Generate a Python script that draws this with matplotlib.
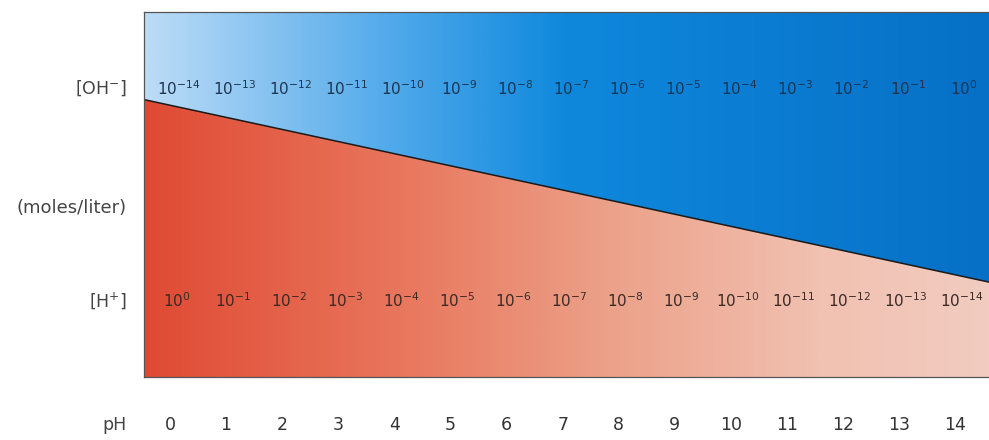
import numpy as np
import matplotlib.pyplot as plt
from matplotlib.colors import LinearSegmentedColormap
from matplotlib.patches import Polygon

plt.rcParams['font.family'] = ['DejaVu Sans']
plt.rcParams['mathtext.fontset'] = 'dejavusans'

# data
ph = [0, 1, 2, 3, 4, 5, 6, 7, 8, 9, 10, 11, 12, 13, 14]
oh_exp = [-14, -13, -12, -11, -10, -9, -8, -7, -6, -5, -4, -3, -2, -1, 0]
h_exp = [0, -1, -2, -3, -4, -5, -6, -7, -8, -9, -10, -11, -12, -13, -14]
boundary_y = [0.76, 0.26]   # dividing line height at left / right edge

x0, x1 = -0.463, 14.6

fig = plt.figure(figsize=(9.89, 4.4), dpi=100)
ax = fig.add_axes([144 / 989, 63 / 440, 1 - 144 / 989, 365 / 440])
ax.set_xlim(x0, x1)
ax.set_ylim(0, 1)
ax.set_xticks([])
ax.set_yticks([])
for s in ['left', 'top', 'bottom']:
    ax.spines[s].set_color('#555555')
    ax.spines[s].set_linewidth(0.9)
ax.spines['right'].set_visible(False)

blue = LinearSegmentedColormap.from_list('b', [(0, '#bcdcf7'), (0.3, '#4ea8ea'),
                                              (0.5, '#0f88dc'), (1, '#0670c6')])
red = LinearSegmentedColormap.from_list('r', [(0, '#e04a34'), (0.3, '#e8765c'),
                                             (0.55, '#eca189'), (0.8, '#f1c1b1'),
                                             (1, '#f2ccc0')])
g = np.linspace(0, 1, 400)[None, :]

upper = Polygon([(x0, boundary_y[0]), (x1, boundary_y[1]), (x1, 1), (x0, 1)],
                closed=True, facecolor='none', edgecolor='none')
lower = Polygon([(x0, 0), (x1, 0), (x1, boundary_y[1]), (x0, boundary_y[0])],
                closed=True, facecolor='none', edgecolor='none')
ax.add_patch(upper)
ax.add_patch(lower)
im1 = ax.imshow(g, cmap=blue, extent=(x0, x1, 0, 1), aspect='auto', origin='lower')
im1.set_clip_path(upper)
im2 = ax.imshow(g, cmap=red, extent=(x0, x1, 0, 1), aspect='auto', origin='lower')
im2.set_clip_path(lower)
ax.plot([x0, x1], boundary_y, color='#1a1a1a', lw=1.1)

for p, e in zip(ph, oh_exp):
    ax.text(p + 0.15, 0.79, r'$10^{%d}$' % e, ha='center', va='center',
            fontsize=11, color='#1d3550')
for p, e in zip(ph, h_exp):
    ax.text(p + 0.12, 0.21, r'$10^{%d}$' % e, ha='center', va='center',
            fontsize=11, color='#3a2a25')
for p in ph:
    ax.text(p, -0.131, str(p), ha='center', va='center', fontsize=12.5,
            color='#333333', clip_on=False)

lab = dict(ha='right', va='center', fontsize=12.5, color='#444444', clip_on=False)
ax.text(-0.77, 0.79, r'[OH$^{-}$]', **lab)
ax.text(-0.77, 0.464, '(moles/liter)', **dict(lab, fontsize=13))
ax.text(-0.77, 0.21, r'[H$^{+}$]', **lab)
ax.text(-0.77, -0.131, 'pH', **lab)

fig.savefig('out.png', dpi=100)
